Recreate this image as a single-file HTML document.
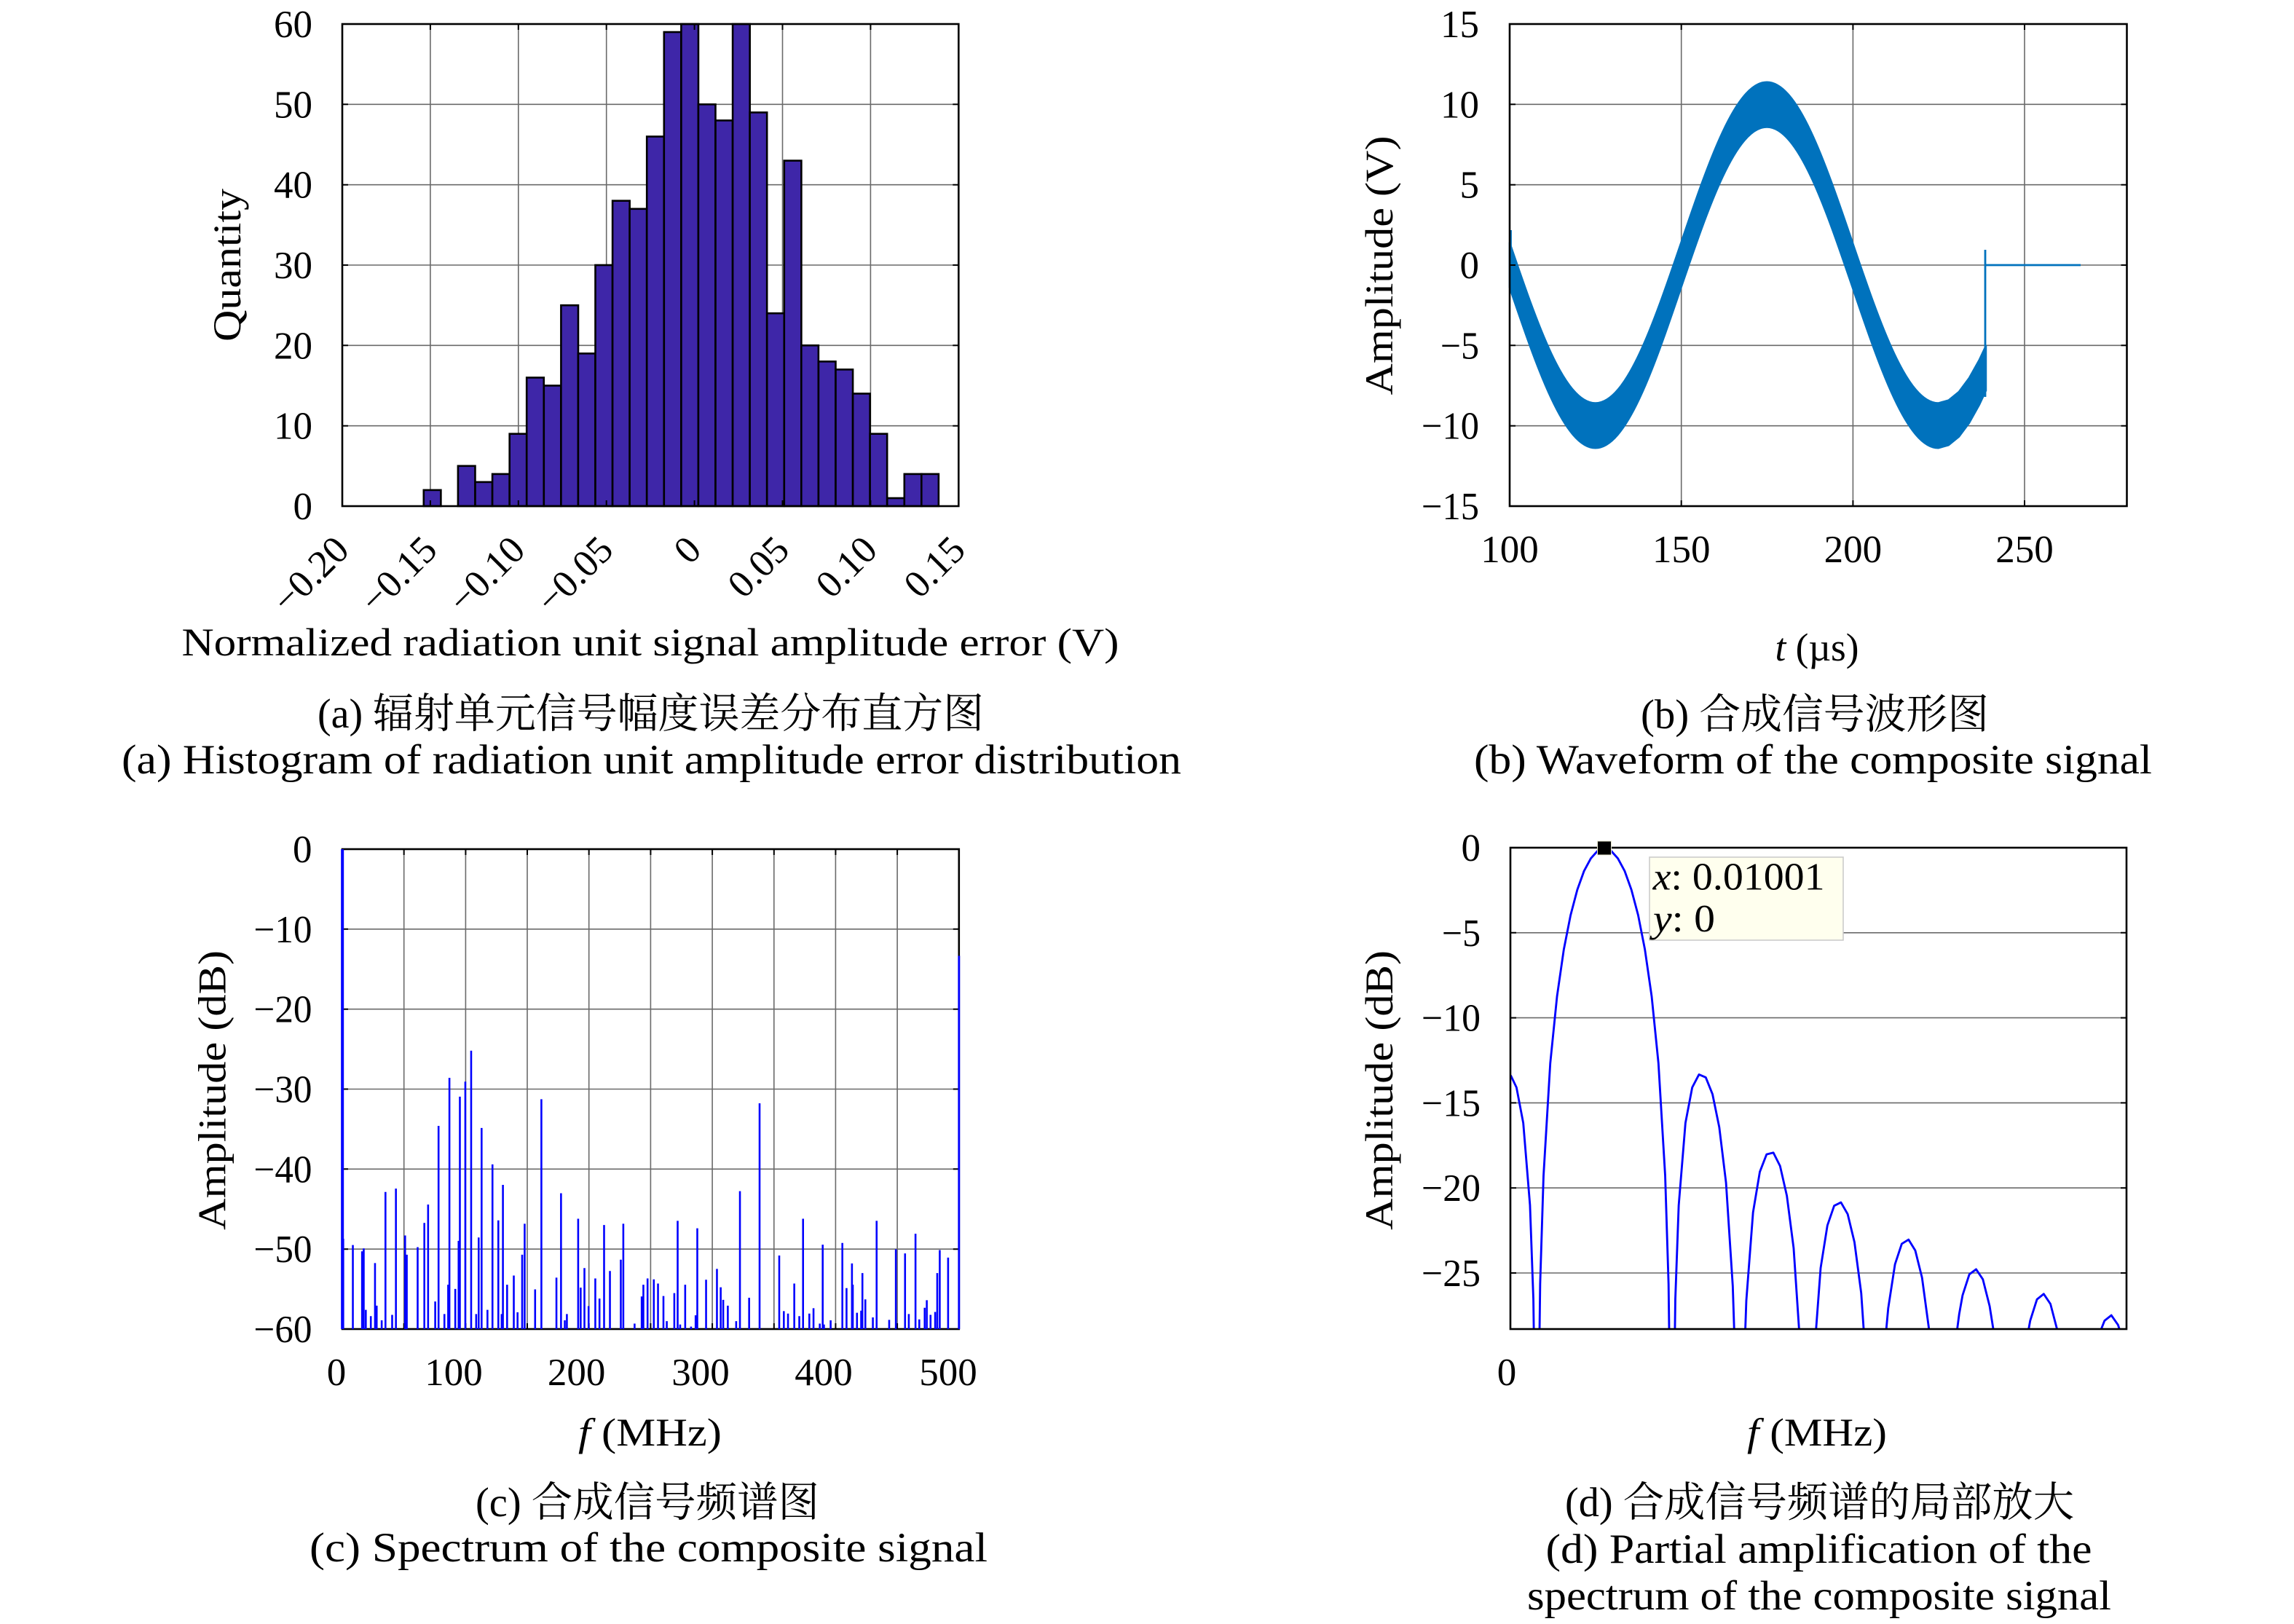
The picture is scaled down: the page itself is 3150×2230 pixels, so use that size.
<!DOCTYPE html>
<html>
<head>
<meta charset="utf-8">
<style>
html,body{margin:0;padding:0;background:#fff;width:3150px;height:2230px;overflow:hidden;}
svg{display:block;overflow:hidden;}
text{font-family:"Liberation Serif","Noto Serif CJK SC",serif;fill:#000;}
.tk{font-size:53px;}
.lb{font-size:54px;}
.cp{font-size:57px;}
</style>
</head>
<body>
<svg xmlns="http://www.w3.org/2000/svg" width="3150" height="2230" viewBox="0 0 3150 2230" font-family="Liberation Serif, Noto Serif CJK SC, serif">
<defs>
<clipPath id="clipd"><rect x="60" y="0" width="1473" height="1176"/></clipPath>
</defs>
<rect x="0" y="0" width="3150" height="2230" fill="#fff"/>

<!-- ============ (a) Histogram ============ -->
<g fill="none" stroke="#6a6a6a" stroke-width="1.6">
<path d="M590.9,33V695M711.8,33V695M832.7,33V695M953.6,33V695M1074.5,33V695M1195.4,33V695M470,143.3H1316.3M470,253.7H1316.3M470,364H1316.3M470,474.3H1316.3M470,584.7H1316.3"/>
</g>
<g fill="#3E26A8" stroke="#000" stroke-width="2.6">
<rect x="581.8" y="672.9" width="23.57" height="22.1"/>
<rect x="628.9" y="639.8" width="23.57" height="55.2"/>
<rect x="652.5" y="661.9" width="23.57" height="33.1"/>
<rect x="676.1" y="650.9" width="23.57" height="44.1"/>
<rect x="699.7" y="595.7" width="23.57" height="99.3"/>
<rect x="723.2" y="518.5" width="23.57" height="176.5"/>
<rect x="746.8" y="529.5" width="23.57" height="165.5"/>
<rect x="770.4" y="419.2" width="23.57" height="275.8"/>
<rect x="793.9" y="485.4" width="23.57" height="209.6"/>
<rect x="817.5" y="364" width="23.57" height="331"/>
<rect x="841.1" y="275.7" width="23.57" height="419.3"/>
<rect x="864.6" y="286.8" width="23.57" height="408.2"/>
<rect x="888.2" y="187.5" width="23.57" height="507.5"/>
<rect x="911.8" y="44" width="23.57" height="651"/>
<rect x="935.4" y="33" width="23.57" height="662"/>
<rect x="958.9" y="143.3" width="23.57" height="551.7"/>
<rect x="982.5" y="165.4" width="23.57" height="529.6"/>
<rect x="1006.1" y="33" width="23.57" height="662"/>
<rect x="1029.6" y="154.4" width="23.57" height="540.6"/>
<rect x="1053.2" y="430.2" width="23.57" height="264.8"/>
<rect x="1076.8" y="220.6" width="23.57" height="474.4"/>
<rect x="1100.3" y="474.3" width="23.57" height="220.7"/>
<rect x="1123.9" y="496.4" width="23.57" height="198.6"/>
<rect x="1147.5" y="507.4" width="23.57" height="187.6"/>
<rect x="1171.1" y="540.5" width="23.57" height="154.5"/>
<rect x="1194.6" y="595.7" width="23.57" height="99.3"/>
<rect x="1218.2" y="684" width="23.57" height="11"/>
<rect x="1241.8" y="650.9" width="23.57" height="44.1"/>
<rect x="1265.3" y="650.9" width="23.57" height="44.1"/>
</g>
<rect x="470" y="33" width="846.3" height="662" fill="none" stroke="#000" stroke-width="2.6"/>
<path d="M470,143.3h8M470,253.7h8M470,364h8M470,474.3h8M470,584.7h8M1316.3,143.3h-8M1316.3,253.7h-8M1316.3,364h-8M1316.3,474.3h-8M1316.3,584.7h-8M590.9,695v-8M711.8,695v-8M832.7,695v-8M953.6,695v-8M1074.5,695v-8M1195.4,695v-8M590.9,33v8M711.8,33v8M832.7,33v8M953.6,33v8M1074.5,33v8M1195.4,33v8" stroke="#000" stroke-width="2" fill="none"/>
<g class="tk" text-anchor="end">
<text x="429" y="51">60</text>
<text x="429" y="161.3">50</text>
<text x="429" y="271.7">40</text>
<text x="429" y="382">30</text>
<text x="429" y="492.3">20</text>
<text x="429" y="602.7">10</text>
<text x="429" y="713">0</text>
</g>
<g class="tk" text-anchor="end">
<text transform="translate(482,758) rotate(-45)">−0.20</text>
<text transform="translate(602.9,758) rotate(-45)">−0.15</text>
<text transform="translate(723.8,758) rotate(-45)">−0.10</text>
<text transform="translate(844.7,758) rotate(-45)">−0.05</text>
<text transform="translate(965.6,758) rotate(-45)">0</text>
<text transform="translate(1086.5,758) rotate(-45)">0.05</text>
<text transform="translate(1207.4,758) rotate(-45)">0.10</text>
<text transform="translate(1328.3,758) rotate(-45)">0.15</text>
</g>
<text class="lb" x="893" y="900" text-anchor="middle" textLength="1287" lengthAdjust="spacingAndGlyphs">Normalized radiation unit signal amplitude error (V)</text>
<text class="lb" transform="translate(330,364) rotate(-90)" text-anchor="middle" textLength="210" lengthAdjust="spacingAndGlyphs">Quantity</text>
<text class="cp" x="893.5" y="999" text-anchor="middle" textLength="915" lengthAdjust="spacingAndGlyphs">(a) 辐射单元信号幅度误差分布直方图</text>
<text class="cp" x="894.5" y="1062" text-anchor="middle" textLength="1455" lengthAdjust="spacingAndGlyphs">(a) Histogram of radiation unit amplitude error distribution</text>

<!-- ============ (b) Waveform ============ -->
<g fill="none" stroke="#6a6a6a" stroke-width="1.6">
<path d="M2308.7,33V695M2544.4,33V695M2780,33V695M2073,143.3H2920.5M2073,253.7H2920.5M2073,364H2920.5M2073,474.3H2920.5M2073,584.7H2920.5"/>
</g>
<g transform="translate(2073,364) scale(4.7083,-22.04) translate(-100,0)">
<path d="M100,1.4 C108.153,-3.723 115.952,-8.6 125,-8.6 C134.048,-8.6 141.847,-3.723 150,1.4 C158.153,6.523 165.952,11.4 175,11.4 C184.048,11.4 191.847,6.523 200,1.4 C208.153,-3.723 215.952,-8.6 225,-8.6 L228,-8.42 L231,-7.9 L234,-7.04 L237,-5.89 L238.9,-5.02 L238.9,-7.82 L237,-8.69 L234,-9.84 L231,-10.7 L228,-11.22 L225,-11.4 C215.952,-11.4 208.153,-6.523 200,-1.4 C191.847,3.723 184.048,8.6 175,8.6 C165.952,8.6 158.153,3.723 150,-1.4 C141.847,-6.523 134.048,-11.4 125,-11.4 C115.952,-11.4 108.153,-6.523 100,-1.4 Z" fill="#0072BD" stroke="#0072BD" stroke-width="2.5" vector-effect="non-scaling-stroke" stroke-linejoin="round"/>
</g>
<path d="M2074.5,316V400M2726,545V343M2726,364H2857" stroke="#0072BD" stroke-width="2.8" fill="none"/>
<rect x="2073" y="33" width="847.5" height="662" fill="none" stroke="#000" stroke-width="2.6"/>
<path d="M2073,143.3h8M2073,253.7h8M2073,364h8M2073,474.3h8M2073,584.7h8M2920.5,143.3h-8M2920.5,253.7h-8M2920.5,364h-8M2920.5,474.3h-8M2920.5,584.7h-8M2308.7,695v-8M2544.4,695v-8M2780,695v-8M2308.7,33v8M2544.4,33v8M2780,33v8" stroke="#000" stroke-width="2" fill="none"/>
<g class="tk" text-anchor="end">
<text x="2031" y="51">15</text>
<text x="2031" y="161.3">10</text>
<text x="2031" y="271.7">5</text>
<text x="2031" y="382">0</text>
<text x="2031" y="492.3" textLength="53" lengthAdjust="spacingAndGlyphs">−5</text>
<text x="2031" y="602.7" textLength="79" lengthAdjust="spacingAndGlyphs">−10</text>
<text x="2031" y="713" textLength="79" lengthAdjust="spacingAndGlyphs">−15</text>
</g>
<g class="tk" text-anchor="middle">
<text x="2073" y="772">100</text>
<text x="2308.7" y="772">150</text>
<text x="2544.4" y="772">200</text>
<text x="2780" y="772">250</text>
</g>
<text class="lb" x="2495" y="907" text-anchor="middle" textLength="115" lengthAdjust="spacingAndGlyphs"><tspan font-style="italic">t</tspan> (µs)</text>
<text class="lb" transform="translate(1912,364.5) rotate(-90)" text-anchor="middle" textLength="356" lengthAdjust="spacingAndGlyphs">Amplitude (V)</text>
<text class="cp" x="2492" y="1000" text-anchor="middle" textLength="478" lengthAdjust="spacingAndGlyphs">(b) 合成信号波形图</text>
<text class="cp" x="2489.5" y="1062" text-anchor="middle" textLength="931" lengthAdjust="spacingAndGlyphs">(b) Waveform of the composite signal</text>

<!-- ============ (c) Spectrum ============ -->
<g fill="none" stroke="#6a6a6a" stroke-width="1.6">
<path d="M554.7,1166V1825M639.4,1166V1825M724,1166V1825M808.7,1166V1825M893.4,1166V1825M978.1,1166V1825M1062.8,1166V1825M1147.4,1166V1825M1232.1,1166V1825M470,1275.8H1316.8M470,1385.7H1316.8M470,1495.5H1316.8M470,1605.3H1316.8M470,1715.2H1316.8"/>
</g>
<rect x="470" y="1166" width="846.8" height="659" fill="none" stroke="#000" stroke-width="2.6"/>
<path d="M470,1275.8h8M470,1385.7h8M470,1495.5h8M470,1605.3h8M470,1715.2h8M1316.8,1275.8h-8M1316.8,1385.7h-8M1316.8,1495.5h-8M1316.8,1605.3h-8M1316.8,1715.2h-8M554.7,1825v-8M639.4,1825v-8M724,1825v-8M808.7,1825v-8M893.4,1825v-8M978.1,1825v-8M1062.8,1825v-8M1147.4,1825v-8M1232.1,1825v-8M554.7,1166v8M639.4,1166v8M724,1166v8M808.7,1166v8M893.4,1166v8M978.1,1166v8M1062.8,1166v8M1147.4,1166v8M1232.1,1166v8" stroke="#000" stroke-width="2" fill="none"/>
<g transform="translate(430,1150) scale(0.57399)" fill="none" stroke="#0000FF">
<path stroke-width="4.5" d="M72,960V1176M95,975V1176M117,990V1176M121,983V1176M126,1130V1176M138,1145V1176M148,1018V1176M152,1120V1176M164,1155V1176M173,848V1176M189,1142V1176M198,840V1176M220,952V1176M224,998V1176M250,980V1176M266,922V1176M275,878V1176M292,1110V1176M300,690V1176M314,1140V1176M323,1070V1176M326,575V1176M340,1080V1176M348,965V1176M351,620V1176M364,584V1176M378,510V1176M390,1140V1176M396,957V1176M403,695V1176M417,1130V1176M429,782V1176M443,916V1176M451,1140V1176M454,831V1176M464,1070V1176M480,1048V1176M489,1136V1176M500,998V1176M506,924V1176M531,1081V1176M546,626V1176M582,1053V1176M593,851V1176M602,1155V1176M607,1140V1176M634,912V1176M640,1077V1176M649,1030V1176M659,1121V1176M675,1055V1176M685,1103V1176M696,927V1176M710,1037V1176M736,1010V1176M742,924V1176M769,1163V1176M786,1098V1176M790,1070V1176M800,1055V1176M815,1057V1176M825,1067V1176M838,1097V1176M846,1157V1176M864,1090V1176M872,917V1176M878,1165V1176M890,1070V1176M904,1170V1176M915,1143V1176M919,935V1176M940,1058V1176M966,1032V1176M975,1076V1176M981,1106V1176M992,1120V1176M1012,1157V1176M1021,846V1176M1043,1101V1176M1068,636V1176M1115,1000V1176M1126,1133V1176M1136,1139V1176M1151,1067V1176M1163,1145V1176M1172,912V1176M1187,1139V1176M1197,1126V1176M1212,1163V1176M1219,974V1176M1222,1165V1176M1238,1155V1176M1266,970V1176M1276,1078V1176M1289,1019V1176M1291,1070V1176M1301,1137V1176M1311,1132V1176M1314,1042V1176M1321,1105V1176M1339,1148V1176M1348,917V1176M1378,1154V1176M1394,985V1176M1416,995V1176M1425,1140V1176M1441,948V1176M1450,1153V1176M1463,1125V1176M1468,1107V1176M1477,1142V1176M1488,1135V1176M1493,1042V1176M1499,987V1176M1519,1005V1176"/>
<path stroke-width="7" d="M70,28V1176"/>
<path stroke-width="5" d="M1545,283V1176"/>
</g>
<g class="tk" text-anchor="end">
<text x="428.5" y="1184">0</text>
<text x="428.5" y="1293.8" textLength="80" lengthAdjust="spacingAndGlyphs">−10</text>
<text x="428.5" y="1403.7" textLength="80" lengthAdjust="spacingAndGlyphs">−20</text>
<text x="428.5" y="1513.5" textLength="80" lengthAdjust="spacingAndGlyphs">−30</text>
<text x="428.5" y="1623.3" textLength="80" lengthAdjust="spacingAndGlyphs">−40</text>
<text x="428.5" y="1733.2" textLength="80" lengthAdjust="spacingAndGlyphs">−50</text>
<text x="428.5" y="1843" textLength="80" lengthAdjust="spacingAndGlyphs">−60</text>
</g>
<g class="tk" text-anchor="middle">
<text x="462" y="1902">0</text>
<text x="623" y="1902">100</text>
<text x="791.6" y="1902">200</text>
<text x="962" y="1902">300</text>
<text x="1131" y="1902">400</text>
<text x="1302" y="1902">500</text>
</g>
<text class="lb" x="892.5" y="1985" text-anchor="middle" textLength="197" lengthAdjust="spacingAndGlyphs"><tspan font-style="italic">f</tspan> (MHz)</text>
<text class="lb" transform="translate(309.5,1497) rotate(-90)" text-anchor="middle" textLength="384" lengthAdjust="spacingAndGlyphs">Amplitude (dB)</text>
<text class="cp" x="889" y="2082" text-anchor="middle" textLength="472" lengthAdjust="spacingAndGlyphs">(c) 合成信号频谱图</text>
<text class="cp" x="890.5" y="2144" text-anchor="middle" textLength="931" lengthAdjust="spacingAndGlyphs">(c) Spectrum of the composite signal</text>

<!-- ============ (d) Partial spectrum ============ -->
<g fill="none" stroke="#6a6a6a" stroke-width="1.6">
<path d="M2074,1280.8H2920M2074,1397.6H2920M2074,1514.4H2920M2074,1631.2H2920M2074,1748H2920"/>
</g>
<g transform="translate(2040,1150) scale(0.57399)">
<g clip-path="url(#clipd)">
<path fill="none" stroke="#0000FF" stroke-width="5" stroke-linejoin="round" d="M60,569 L73.8,598 L90,683 L106.1,879.5 L114.2,1104 L122.3,1700 L130.4,1068 L138.5,809 L154.6,540 L170.8,380 L187,268 L203.2,186 L219.3,125 L235.5,80 L251.7,50 L267.8,32 L284,26 L300.2,32 L316.3,50 L332.5,80 L348.7,125 L364.9,186 L381,268 L397.2,380 L413.4,540 L429.5,809 L437.6,1068 L445.7,1700 L453.8,1104 L461.9,880 L478,683 L494.2,598 L510.4,567 L526.6,574 L542.7,614 L558.9,693 L575.1,826 L591.2,1073 L599.3,1323 L607.4,1700 L615.5,1341 L623.6,1108 L639.7,897 L655.9,800 L672.1,758 L688.3,754 L704.4,786 L720.6,857 L736.8,982 L752.9,1222 L769.1,1700 L785.3,1246 L801.4,1030 L817.6,928 L833.8,881 L850,873 L866.1,901 L882.3,968 L898.5,1090 L914.6,1327 L930.8,1700 L955.1,1213 L963.1,1126 L979.3,1021 L995.5,972 L1011.7,962 L1027.8,988 L1044,1053 L1060.2,1173 L1076.3,1408 L1092.5,1700 L1124.8,1202 L1132.9,1140 L1141,1095 L1157.2,1045 L1173.4,1033 L1189.5,1057 L1205.7,1121 L1213.8,1172 L1221.9,1240 L1254.2,1700 L1294.6,1201 L1302.7,1156 L1318.9,1105 L1335.1,1092 L1351.2,1116 L1367.4,1178 L1375.5,1250 L1416,1700 L1472.5,1176.5 L1480.6,1156 L1496.8,1143 L1512.9,1166 L1521,1191 L1533,1260"/>
</g>
</g>
<rect x="2074" y="1164" width="846" height="661" fill="none" stroke="#000" stroke-width="2.6"/>
<path d="M2074,1280.8h8M2074,1397.6h8M2074,1514.4h8M2074,1631.2h8M2074,1748h8M2920,1280.8h-8M2920,1397.6h-8M2920,1514.4h-8M2920,1631.2h-8M2920,1748h-8" stroke="#000" stroke-width="2" fill="none"/>
<rect x="2193.5" y="1155" width="19" height="19" fill="#000" stroke="#e8e8d0" stroke-width="1"/>
<rect x="2265" y="1177" width="266" height="114" fill="#FFFFEE" stroke="#c8c8c8" stroke-width="1.5"/>
<text class="tk" x="2269.6" y="1221.7" textLength="236" lengthAdjust="spacingAndGlyphs"><tspan font-style="italic">x</tspan>: 0.01001</text>
<text class="tk" x="2270" y="1279" textLength="85" lengthAdjust="spacingAndGlyphs"><tspan font-style="italic">y</tspan>: 0</text>
<g class="tk" text-anchor="end">
<text x="2033" y="1182">0</text>
<text x="2033" y="1298.8" textLength="53" lengthAdjust="spacingAndGlyphs">−5</text>
<text x="2033" y="1415.6" textLength="81" lengthAdjust="spacingAndGlyphs">−10</text>
<text x="2033" y="1532.4" textLength="81" lengthAdjust="spacingAndGlyphs">−15</text>
<text x="2033" y="1649.2" textLength="81" lengthAdjust="spacingAndGlyphs">−20</text>
<text x="2033" y="1766" textLength="81" lengthAdjust="spacingAndGlyphs">−25</text>
</g>
<text class="tk" x="2069" y="1902" text-anchor="middle">0</text>
<text class="lb" x="2495" y="1985" text-anchor="middle" textLength="192" lengthAdjust="spacingAndGlyphs"><tspan font-style="italic">f</tspan> (MHz)</text>
<text class="lb" transform="translate(1912,1497) rotate(-90)" text-anchor="middle" textLength="384" lengthAdjust="spacingAndGlyphs">Amplitude (dB)</text>
<text class="cp" x="2498.5" y="2082" text-anchor="middle" textLength="699" lengthAdjust="spacingAndGlyphs">(d) 合成信号频谱的局部放大</text>
<text class="cp" x="2497.5" y="2146" text-anchor="middle" textLength="750" lengthAdjust="spacingAndGlyphs">(d) Partial amplification of the</text>
<text class="cp" x="2498" y="2210" text-anchor="middle" textLength="802" lengthAdjust="spacingAndGlyphs">spectrum of the composite signal</text>
</svg>
</body>
</html>
